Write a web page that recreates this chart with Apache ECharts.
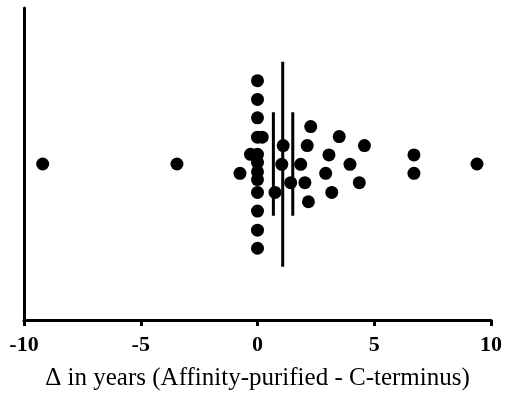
<!DOCTYPE html>
<html><head><meta charset="utf-8">
<script src="https://cdn.jsdelivr.net/npm/echarts@6/dist/echarts.min.js"></script>
<style>html,body{margin:0;padding:0;background:#fff}#c{width:506px;height:398px}</style>
</head><body><div id="c"></div>
<script>
// Δ in years for each sample, with its vertical jitter position (arbitrary units, 0-100)
var deltas  = [-9.2, -3.45, -0.75, -0.3, 0, 0, 0, 0, 0.2, 0, 0, 0, 0, 0, 0, 0, 0, 0.75, 1.04, 1.1, 1.42, 1.85, 2.03, 2.13, 2.18, 2.28, 2.92, 3.06, 3.18, 3.5, 3.96, 4.36, 4.58, 6.7, 6.7, 9.4];
var offsets = [50, 50, 47, 53.1, 76.7, 70.7, 64.8, 58.6, 58.6, 53.1, 50.5, 47.5, 40.9, 34.9, 28.8, 23.0, 45, 40.9, 49.9, 55.9, 44.0, 49.9, 44.0, 55.9, 37.9, 62.0, 47.0, 52.9, 40.9, 58.8, 49.9, 44.0, 55.9, 52.9, 47.0, 50];
var meanValue = 1.08;
var meanSpan = [17.1, 82.8];
var errorLow = 0.68, errorHigh = 1.51;
var errorSpan = [33.4, 66.6];
var xTicks = [-10, -5, 0, 5, 10];

var pts = deltas.map(function(d, i){ return [d, offsets[i]]; });
var chart = echarts.init(document.getElementById('c'));
var lineStyle = {color:'#000', width:3, opacity:1};
chart.setOption({
  animation:false,
  grid:{left:24, right:15, top:8, bottom:78},
  xAxis:{type:'value', min:xTicks[0], max:xTicks[xTicks.length-1], interval:5,
    axisLine:{onZero:false, lineStyle:{color:'#000', width:3}},
    axisTick:{length:6, lineStyle:{color:'#000', width:3}},
    splitLine:{show:false},
    axisLabel:{color:'#000', fontFamily:'Liberation Serif', fontWeight:'bold', fontSize:22, margin:14},
    name:'Δ in years (Affinity-purified - C-terminus)', nameLocation:'middle', nameGap:46,
    nameTextStyle:{color:'#000', fontFamily:'Liberation Serif', fontSize:25}
  },
  yAxis:{type:'value', min:0, max:100,
    axisLine:{show:true, onZero:false, lineStyle:{color:'#000', width:3}},
    axisTick:{show:false}, axisLabel:{show:false}, splitLine:{show:false}},
  series:[
    {type:'scatter', data:pts, symbolSize:13, itemStyle:{color:'#000', opacity:1}, z:3},
    {type:'line', data:[[meanValue, meanSpan[0]],[meanValue, meanSpan[1]]], symbol:'none', lineStyle:lineStyle, z:4},
    {type:'line', data:[[errorLow, errorSpan[0]],[errorLow, errorSpan[1]]], symbol:'none', lineStyle:lineStyle, z:4},
    {type:'line', data:[[errorHigh, errorSpan[0]],[errorHigh, errorSpan[1]]], symbol:'none', lineStyle:lineStyle, z:4}
  ]
});
</script></body></html>
